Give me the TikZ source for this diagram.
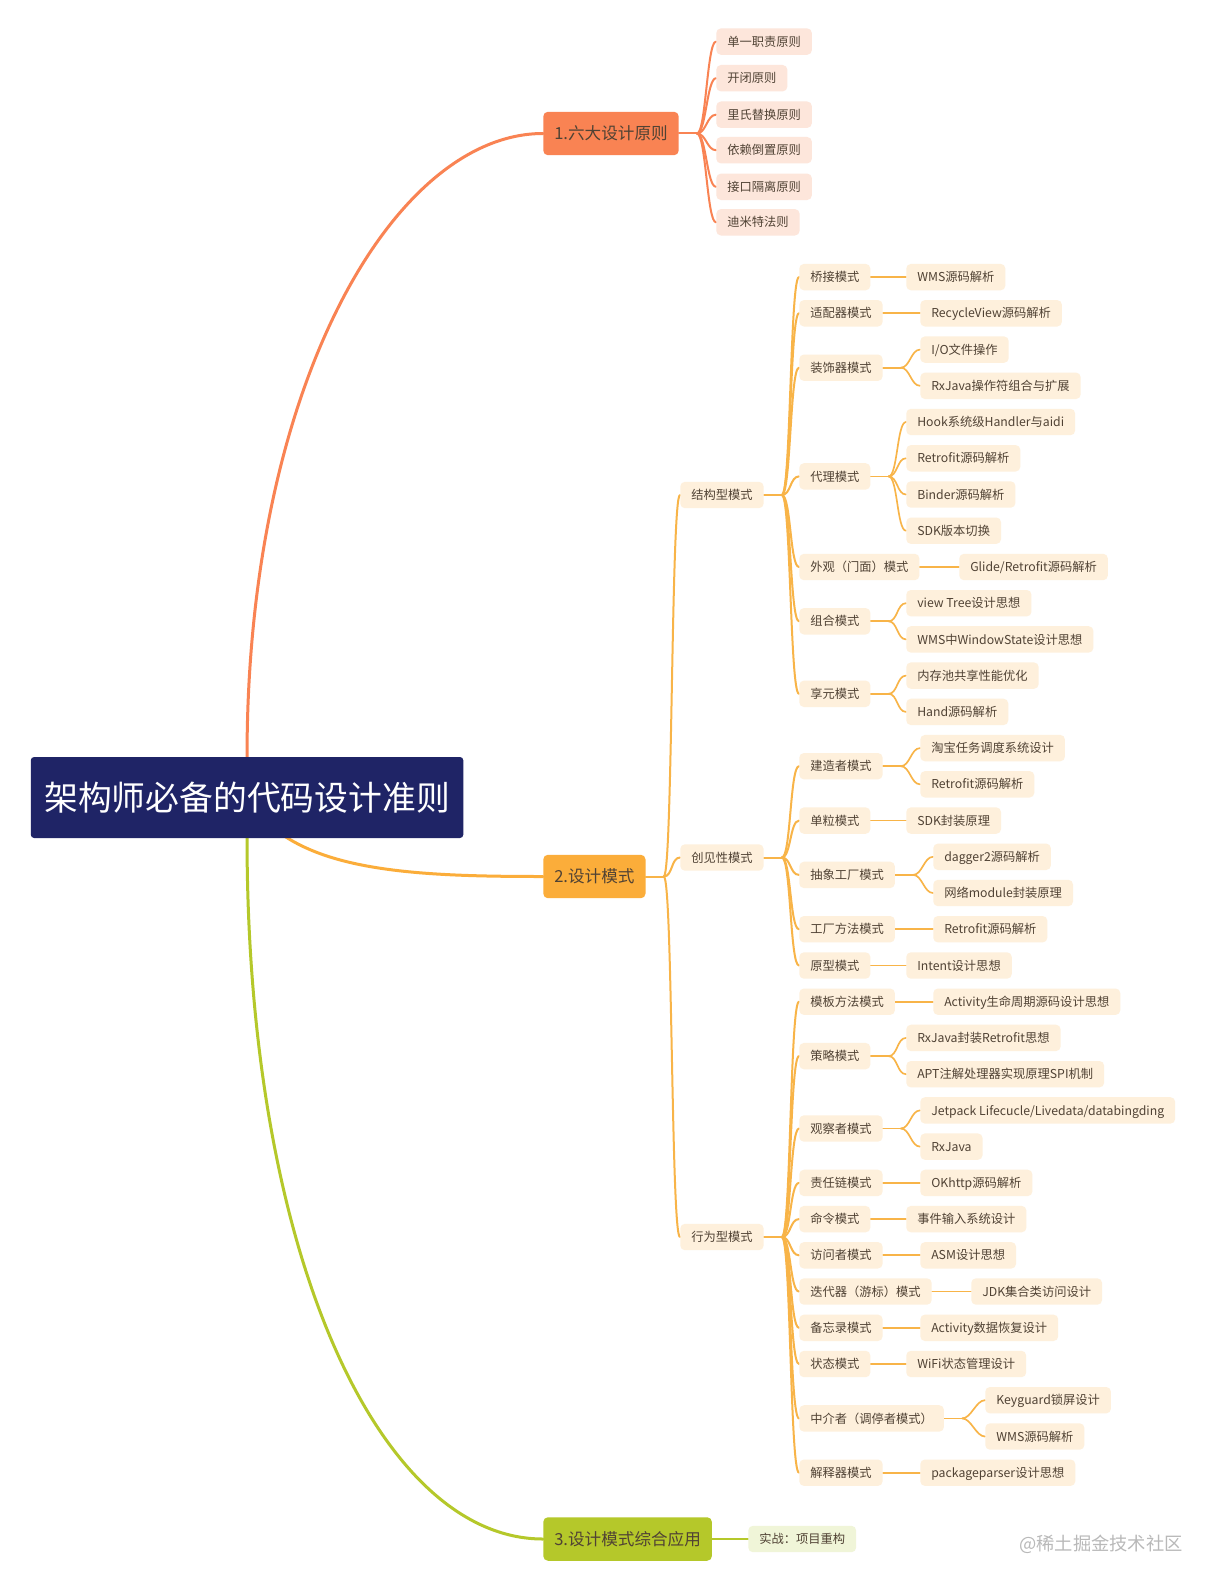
\documentclass[tikz,border=0pt]{standalone}
\usepackage{fontspec}
\setmainfont{Noto Sans CJK SC}
\usetikzlibrary{calc,backgrounds}
\definecolor{rootc}{RGB}{31,36,102}
\definecolor{oa}{RGB}{249,131,83}
\definecolor{oal}{RGB}{253,230,219}
\definecolor{ob}{RGB}{251,173,58}
\definecolor{obl}{RGB}{254,240,220}
\definecolor{lnB}{RGB}{248,180,72}
\definecolor{gc}{RGB}{181,200,42}
\definecolor{gcl}{RGB}{240,245,216}
\definecolor{txt}{RGB}{80,66,52}
\definecolor{wmc}{RGB}{185,185,185}
\tikzset{
  rootbox/.style={fill=rootc, text=white, rounded corners=2.5pt, anchor=west, minimum height=60.75pt, inner xsep=10.1pt, inner ysep=0pt, text height=22.3pt, text depth=3.05pt, font=\fontsize{25.35pt}{30pt}\selectfont},
  brbox/.style={rounded corners=3.5pt, anchor=west, minimum height=32.6pt, inner xsep=8.25pt, inner ysep=0pt, text=txt, text height=10.96pt, text depth=1.5pt, font=\fontsize{12.45pt}{15pt}\selectfont},
  lfbox/.style={rounded corners=3.5pt, anchor=west, minimum height=19.8pt, inner xsep=8.25pt, inner ysep=0pt, text=txt, text height=8.1pt, text depth=1.1pt, font=\fontsize{9.2pt}{11pt}\selectfont},
  leafA/.style={lfbox, fill=oal},
  leafB/.style={lfbox, fill=obl},
  leafC/.style={lfbox, fill=gcl},
  rootln/.style={line width=2.25pt, line cap=round},
  lnone/.style={line width=1.5pt, line cap=round},
  lntwo/.style={line width=1.5pt, line cap=round},
  lnthree/.style={line width=1.25pt, line cap=round},
}
\newcommand\fanout[3]{%
  \draw[#1] (#2.east) -- ++(18,0) coordinate (#2-fk);
  \foreach \ch in {#3} {\draw[#1] (#2-fk) .. controls ($(#2-fk)+(9,0)$) and ($(\ch.west)+(-9,0)$) .. (\ch.west);}
}
\begin{document}
\begin{tikzpicture}[x=0.75pt,y=-0.75pt]
\useasboundingbox (0,0) rectangle (1218,1591);
% root and main branches
\node[rootbox] (r) at (30.5,797.5) {架构师必备的代码设计准则};
\node[brbox, fill=oa] (b1) at (543,133.5) {1.六大设计原则};
\node[brbox, fill=ob] (b2) at (543,876.5) {2.设计模式};
\node[brbox, fill=gc] (b3) at (543,1539) {3.设计模式综合应用};
% branch 1 leaves
\node[leafA] (a1) at (716,41.6) {单一职责原则};
\node[leafA] (a2) at (716,78.2) {开闭原则};
\node[leafA] (a3) at (716,114.7) {里氏替换原则};
\node[leafA] (a4) at (716,150.2) {依赖倒置原则};
\node[leafA] (a5) at (716,186.8) {接口隔离原则};
\node[leafA] (a6) at (716,222.3) {迪米特法则};
% branch 2 level 2
\node[leafB] (s1) at (680,495) {结构型模式};
\node[leafB] (s2) at (680,857.5) {创见性模式};
\node[leafB] (s3) at (680,1237) {行为型模式};
% level 3
\node[leafB] (p1) at (799,277.1) {桥接模式};
\node[leafB] (p2) at (799,313.3) {适配器模式};
\node[leafB] (p3) at (799,367.7) {装饰器模式};
\node[leafB] (p4) at (799,476.4) {代理模式};
\node[leafB] (p5) at (799,567.0) {外观（门面）模式};
\node[leafB] (p6) at (799,621.3) {组合模式};
\node[leafB] (p7) at (799,693.8) {享元模式};
\node[leafB] (p8) at (799,766.2) {建造者模式};
\node[leafB] (p9) at (799,820.6) {单粒模式};
\node[leafB] (p10) at (799,874.9) {抽象工厂模式};
\node[leafB] (p11) at (799,929.2) {工厂方法模式};
\node[leafB] (p12) at (799,965.5) {原型模式};
\node[leafB] (p13) at (799,1001.7) {模板方法模式};
\node[leafB] (p14) at (799,1056.1) {策略模式};
\node[leafB] (p15) at (799,1128.5) {观察者模式};
\node[leafB] (p16) at (799,1182.9) {责任链模式};
\node[leafB] (p17) at (799,1219.1) {命令模式};
\node[leafB] (p18) at (799,1255.3) {访问者模式};
\node[leafB] (p19) at (799,1291.5) {迭代器（游标）模式};
\node[leafB] (p20) at (799,1327.8) {备忘录模式};
\node[leafB] (p21) at (799,1364.0) {状态模式};
\node[leafB] (p22) at (799,1418.4) {中介者（调停者模式）};
\node[leafB] (p23) at (799,1472.7) {解释器模式};
% level 4
\node[leafB] (q0) at (906,277.1) {WMS源码解析};
\node[leafB] (q1) at (920,313.3) {RecycleView源码解析};
\node[leafB] (q2) at (920,349.6) {I/O文件操作};
\node[leafB] (q3) at (920,385.8) {RxJava操作符组合与扩展};
\node[leafB] (q4) at (906,422.0) {Hook系统级Handler与aidi};
\node[leafB] (q5) at (906,458.3) {Retrofit源码解析};
\node[leafB] (q6) at (906,494.5) {Binder源码解析};
\node[leafB] (q7) at (906,530.7) {SDK版本切换};
\node[leafB] (q8) at (959,567.0) {Glide/Retrofit源码解析};
\node[leafB] (q9) at (906,603.2) {view Tree设计思想};
\node[leafB] (q10) at (906,639.4) {WMS中WindowState设计思想};
\node[leafB] (q11) at (906,675.6) {内存池共享性能优化};
\node[leafB] (q12) at (906,711.9) {Hand源码解析};
\node[leafB] (q13) at (920,748.1) {淘宝任务调度系统设计};
\node[leafB] (q14) at (920,784.3) {Retrofit源码解析};
\node[leafB] (q15) at (906,820.6) {SDK封装原理};
\node[leafB] (q16) at (933,856.8) {dagger2源码解析};
\node[leafB] (q17) at (933,893.0) {网络module封装原理};
\node[leafB] (q18) at (933,929.2) {Retrofit源码解析};
\node[leafB] (q19) at (906,965.5) {Intent设计思想};
\node[leafB] (q20) at (933,1001.7) {Activity生命周期源码设计思想};
\node[leafB] (q21) at (906,1037.9) {RxJava封装Retrofit思想};
\node[leafB] (q22) at (906,1074.2) {APT注解处理器实现原理SPI机制};
\node[leafB] (q23) at (920,1110.4) {Jetpack Lifecucle/Livedata/databingding};
\node[leafB] (q24) at (920,1146.6) {RxJava};
\node[leafB] (q25) at (920,1182.9) {OKhttp源码解析};
\node[leafB] (q26) at (906,1219.1) {事件输入系统设计};
\node[leafB] (q27) at (920,1255.3) {ASM设计思想};
\node[leafB] (q28) at (971,1291.5) {JDK集合类访问设计};
\node[leafB] (q29) at (920,1327.8) {Activity数据恢复设计};
\node[leafB] (q30) at (906,1364.0) {WiFi状态管理设计};
\node[leafB] (q31) at (985,1400.2) {Keyguard锁屏设计};
\node[leafB] (q32) at (985,1436.5) {WMS源码解析};
\node[leafB] (q33) at (920,1472.7) {packageparser设计思想};
% branch 3 leaf
\node[leafC] (c1) at (748,1539) {实战：项目重构};
% watermark
\node[text=wmc, font=\fontsize{13.7pt}{16pt}\selectfont] (wm) at (1101,1544) {@稀土掘金技术社区};
% connectors
\begin{scope}[on background layer]
\fill[white] (0,0) rectangle (1218,1591);
\draw[rootln, oa] (r.north) .. controls ($(r.north)+(0,-374)$) and ($(b1.west)+(-148,0)$) .. (b1.west);
\draw[rootln, ob] (r.center) .. controls ($(r.center)+(43.5,72.5)$) and ($(b2.west)+(-143,0)$) .. (b2.west);
\draw[rootln, gc] (r.south) .. controls ($(r.south)+(0,421)$) and ($(b3.west)+(-162,0)$) .. (b3.west);
\fanout{lnone,oa}{b1}{a1,a2,a3,a4,a5,a6}
\fanout{lnone,gc}{b3}{c1}
\fanout{lntwo,lnB}{b2}{s1,s2,s3}
\fanout{lntwo,lnB}{s1}{p1,p2,p3,p4,p5,p6,p7}
\fanout{lntwo,lnB}{s2}{p8,p9,p10,p11,p12}
\fanout{lntwo,lnB}{s3}{p13,p14,p15,p16,p17,p18,p19,p20,p21,p22,p23}
\fanout{lnthree,lnB}{p1}{q0}
\fanout{lnthree,lnB}{p2}{q1}
\fanout{lnthree,lnB}{p3}{q2,q3}
\fanout{lnthree,lnB}{p4}{q4,q5,q6,q7}
\fanout{lnthree,lnB}{p5}{q8}
\fanout{lnthree,lnB}{p6}{q9,q10}
\fanout{lnthree,lnB}{p7}{q11,q12}
\fanout{lnthree,lnB}{p8}{q13,q14}
\fanout{lnthree,lnB}{p9}{q15}
\fanout{lnthree,lnB}{p10}{q16,q17}
\fanout{lnthree,lnB}{p11}{q18}
\fanout{lnthree,lnB}{p12}{q19}
\fanout{lnthree,lnB}{p13}{q20}
\fanout{lnthree,lnB}{p14}{q21,q22}
\fanout{lnthree,lnB}{p15}{q23,q24}
\fanout{lnthree,lnB}{p16}{q25}
\fanout{lnthree,lnB}{p17}{q26}
\fanout{lnthree,lnB}{p18}{q27}
\fanout{lnthree,lnB}{p19}{q28}
\fanout{lnthree,lnB}{p20}{q29}
\fanout{lnthree,lnB}{p21}{q30}
\fanout{lnthree,lnB}{p22}{q31,q32}
\fanout{lnthree,lnB}{p23}{q33}
\end{scope}
\end{tikzpicture}
\end{document}
